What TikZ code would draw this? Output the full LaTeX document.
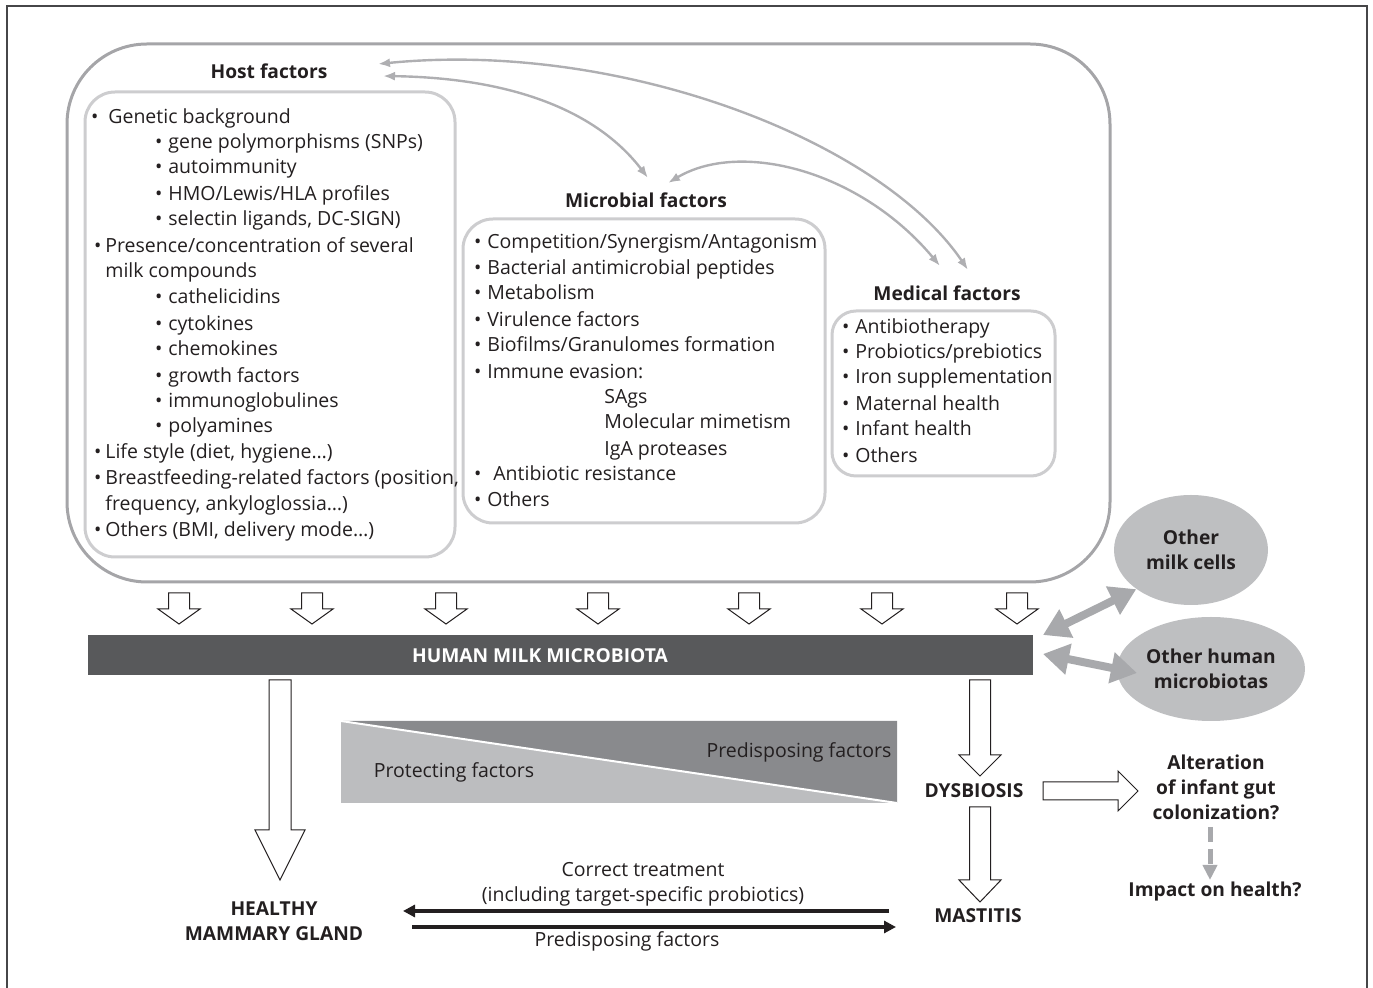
\documentclass[tikz,border=0pt]{standalone}
\usepackage{fontspec}
\setmainfont{Open Sans}
\usetikzlibrary{arrows.meta,shapes.geometric}

\definecolor{ink}{RGB}{35,31,32}
\definecolor{framegray}{RGB}{70,70,72}
\definecolor{outergray}{RGB}{165,165,168}
\definecolor{innergray}{RGB}{205,205,207}
\definecolor{linkgray}{RGB}{175,175,178}
\definecolor{bardark}{RGB}{88,89,91}
\definecolor{cellgray}{RGB}{190,191,193}
\definecolor{duplexgray}{RGB}{168,169,172}
\definecolor{wedgelight}{RGB}{188,189,191}
\definecolor{wedgedark}{RGB}{137,138,141}

% bullet hung to the left of an item
\newcommand\bul[1][2pt]{\llap{•\hspace{#1}}}

\tikzset{
  item/.style={anchor=base west, inner sep=0pt, font=\fontsize{9.75}{12}\selectfont, text=ink},
  head/.style={inner sep=0pt, font=\bfseries\fontsize{9.6}{12}\selectfont, text=ink},
  tag/.style={inner sep=0pt, align=center, font=\bfseries\fontsize{9.6}{12.5}\selectfont, text=ink},
  note/.style={inner sep=0pt, align=center, font=\fontsize{9.75}{12.5}\selectfont, text=ink},
  hollow/.style={draw=ink, fill=white, line width=0.5pt, line join=miter},
  link/.style={draw=linkgray, line width=1.2pt, {Latex[length=6pt,width=4.5pt]}-{Latex[length=6pt,width=4.5pt]}},
  duplex/.style={draw=duplexgray, line width=4pt, {Triangle[length=13pt,width=15pt]}-{Triangle[length=13pt,width=15pt]}},
  cell/.style={ellipse, fill=cellgray, inner sep=0pt, align=center, font=\bfseries\fontsize{9.6}{12.5}\selectfont, text=ink},
}

\begin{document}
\begin{tikzpicture}[x=0.5pt, y=-0.5pt]
  \useasboundingbox (0,0) rectangle (1373,988);
  \draw[framegray, line width=1pt] (7,988) -- (7,6) -- (1367,6) -- (1367,988);

  % factor boxes
  \draw[outergray, line width=1.5pt, rounded corners=40pt] (67,44) rectangle (1110,582);
  \draw[innergray, line width=1.5pt, rounded corners=15pt] (85,92) rectangle (455,557);
  \draw[innergray, line width=1.5pt, rounded corners=15pt] (463,219) rectangle (825,523);
  \draw[innergray, line width=1.5pt, rounded corners=12pt] (832,311) rectangle (1055,476);

  \node[head] (host) at (269,71) {Host factors};
  \node[head] (microbial) at (646,200) {Microbial factors};
  \node[head] (medical) at (947,293) {Medical factors};

  % Host factors list
  \foreach \x/\y/\t [count=\i] in {
      108/124/{\bul[5pt]Genetic background},
      168/149/{\bul[3pt]gene polymorphisms (SNPs)},
      168/174/{\bul[3pt]autoimmunity},
      168/201/{\bul[3pt]HMO/Lewis/HLA profiles},
      168/226/{\bul[3pt]selectin ligands, DC-SIGN)},
      105/253/{\bul Presence/concentration of several},
      105/278/{milk compounds},
      168/304/{\bul[3pt]cathelicidins},
      168/331/{\bul[3pt]cytokines},
      168/356/{\bul[3pt]chemokines},
      168/383/{\bul[3pt]growth factors},
      168/408/{\bul[3pt]immunoglobulines},
      168/433/{\bul[3pt]polyamines},
      105/459/{\bul Life style (diet, hygiene…)},
      105/485/{\bul Breastfeeding-related factors (position,},
      105/511/{frequency, ankyloglossia…)},
      105/537/{\bul Others (BMI, delivery mode…)}}
    \node[item] (host\i) at (\x,\y) {\t};

  % Microbial factors list
  \foreach \x/\y/\t [count=\i] in {
      487/249/{\bul[3pt]Competition/Synergism/Antagonism},
      487/275/{\bul[3pt]Bacterial antimicrobial peptides},
      487/300/{\bul[3pt]Metabolism},
      487/327/{\bul[3pt]Virulence factors},
      487/352/{\bul[3pt]Biofilms/Granulomes formation},
      487/379/{\bul[3pt]Immune evasion:},
      604/404/{SAgs},
      604/429/{Molecular mimetism},
      604/456/{IgA proteases},
      493/481/{\bul[6pt]Antibiotic resistance},
      487/507/{\bul[3pt]Others}}
    \node[item] (micro\i) at (\x,\y) {\t};

  % Medical factors list
  \foreach \y/\t [count=\i] in {
      334/{Antibiotherapy}, 359/{Probiotics/prebiotics}, 384/{Iron supplementation},
      411/{Maternal health}, 436/{Infant health}, 463/{Others}}
    \node[item] (med\i) at (855,\y) {\bul[3pt]\t};

  % links between the factor groups
  \coordinate (hostA) at (378,64);
  \coordinate (hostB) at (383,76);
  \coordinate (microA) at (648,178);
  \coordinate (microB) at (668,183);
  \coordinate (medA) at (940,266);
  \coordinate (medB) at (968,270);
  \draw[link] (hostA) .. controls (620,40) and (880,140) .. (medB);
  \draw[link] (hostB) .. controls (520,78) and (600,115) .. (microA);
  \draw[link] (microB) .. controls (740,140) and (860,170) .. (medA);

  % arrows down into the microbiota bar
  \foreach \x in {179,312,446,598,749,882,1017}
    \draw[hollow] (\x-10.5,593) -- (\x+10.5,593) -- (\x+10.5,609) -- (\x+21,609)
      -- (\x,624) -- (\x-21,609) -- (\x-10.5,609) -- cycle;

  \fill[bardark] (88,635) rectangle (1033,675);
  \node[tag, text=white] (hmm) at (540,656) {HUMAN MILK MICROBIOTA};

  % other cells and microbiotas
  \node[cell, minimum width=77pt, minimum height=55pt] (cells) at (1191,550) {Other\\milk cells};
  \node[cell, minimum width=94pt, minimum height=52pt] (biotas) at (1211,669) {Other human\\microbiotas};
  \coordinate (hmmA) at (1043,635);
  \coordinate (hmmB) at (1043,654);
  \coordinate (biotasL) at (1137,673);
  \draw[duplex] (hmmA) -- (cells.south west);
  \draw[duplex] (hmmB) -- (biotasL);

  % protecting / predisposing wedge
  \fill[wedgelight] (341,721) -- (897,803) -- (341,803) -- cycle;
  \fill[wedgedark] (341,721) -- (897,721) -- (897,803) -- cycle;
  \draw[white, line width=1pt] (341,721) -- (897,803);
  \node[note] (protect) at (454,772) {Protecting factors};
  \node[note] (predisp) at (799,752) {Predisposing factors};

  % outcomes
  \draw[hollow] (269,680) -- (291,680) -- (291,830) -- (305,830) -- (280,880)
    -- (255,830) -- (269,830) -- cycle;
  \draw[hollow] (969.5,680) -- (990.5,680) -- (990.5,755) -- (1001,755) -- (980,776)
    -- (959,755) -- (969.5,755) -- cycle;
  \draw[hollow] (969.5,807) -- (990.5,807) -- (990.5,880) -- (1001,880) -- (980,902)
    -- (959,880) -- (969.5,880) -- cycle;
  \draw[hollow] (1043,782) -- (1118,782) -- (1118,771) -- (1138,791) -- (1118,811)
    -- (1118,800) -- (1043,800) -- cycle;

  \node[tag] (healthy) at (274,921) {HEALTHY\\MAMMARY GLAND};
  \node[tag] (dysbiosis) at (974,791) {DYSBIOSIS};
  \node[tag] (mastitis) at (978,916) {MASTITIS};
  \node[tag] (gut) at (1216,787) {Alteration\\of infant gut\\colonization?};
  \node[tag] (impact) at (1215,892) {Impact on health?};

  \coordinate (gutS) at (1210,827);
  \coordinate (impactN) at (1210,880);
  \draw[duplexgray, line width=2.5pt, dash pattern=on 7.5pt off 3.5pt,
    -{Triangle[length=7.5pt,width=7pt]}] (gutS) -- (impactN);

  % treatment and relapse
  \coordinate (mastA) at (889,911);
  \coordinate (healthyA) at (403,911);
  \coordinate (healthyB) at (412,927);
  \coordinate (mastB) at (896,927);
  \draw[ink, line width=2pt, -{Triangle[length=6pt,width=6pt]}] (mastA) -- (healthyA);
  \draw[ink, line width=2pt, -{Triangle[length=6pt,width=6pt]}] (healthyB) -- (mastB);
  \node[note] (treat) at (643,884) {Correct treatment\\(including target-specific probiotics)};
  \node[note] (predisp2) at (627,941) {Predisposing factors};
\end{tikzpicture}
\end{document}
